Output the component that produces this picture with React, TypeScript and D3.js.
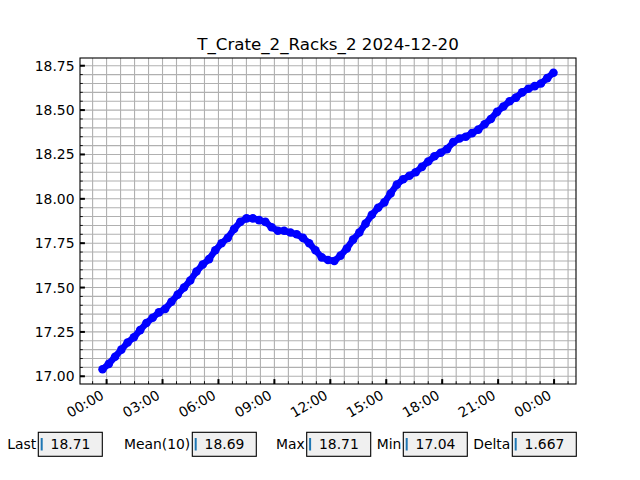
import React from "react";
import * as d3 from "d3";

const TITLE = "T_Crate_2_Racks_2 2024-12-20";
const START = new Date(2024, 11, 19, 23, 47);
const END = new Date(2024, 11, 20, 23, 58);
const VALUES: number[] = [
  17.04, 17.07, 17.11, 17.15, 17.19, 17.22, 17.26, 17.3, 17.33, 17.36,
  17.38, 17.42, 17.46, 17.5, 17.54, 17.59, 17.63, 17.66, 17.71, 17.75,
  17.78, 17.83, 17.87, 17.89, 17.89, 17.88, 17.87, 17.84, 17.82, 17.82,
  17.81, 17.8, 17.78, 17.75, 17.71, 17.67, 17.655, 17.65, 17.68, 17.72,
  17.77, 17.81, 17.86, 17.91, 17.95, 17.98, 18.03, 18.08, 18.11, 18.13,
  18.15, 18.18, 18.21, 18.24, 18.26, 18.28, 18.32, 18.34, 18.35, 18.37,
  18.39, 18.42, 18.45, 18.49, 18.52, 18.55, 18.57, 18.6, 18.62, 18.635,
  18.65, 18.68, 18.71,
];
const STAT_LABELS = ["Last", "Mean(10)", "Max", "Min", "Delta"];
const STAT_VALUES = ["18.71", "18.69", "18.71", "17.04", "1.667"];
const BOX_LEFTS = [38.3, 192.3, 306.7, 403.3, 512.3];

const W = 640;
const H = 480;
const L = 80, R = 576, T = 58, B = 384;
const FONT = "DejaVu Sans";

export default function App() {
  const n = VALUES.length;
  const t0 = START.getTime();
  const t1 = END.getTime();
  const times = VALUES.map((_, i) => new Date(t0 + ((t1 - t0) * i) / (n - 1)));
  const data = times.map((t, i) => ({ t, v: VALUES[i] }));

  const xPad = (t1 - t0) * 0.05;
  const x = d3.scaleTime().domain([new Date(t0 - xPad), new Date(t1 + xPad)]).range([L, R]);
  const [vmin, vmax] = d3.extent(VALUES) as [number, number];
  const yPad = (vmax - vmin) * 0.05;
  const y = d3.scaleLinear().domain([vmin - yPad, vmax + yPad]).range([B, T]);

  const [d0, d1] = x.domain();
  const majorX = d3.timeHour.every(3)!.range(d0, d1);
  const minorX: Date[] = [];
  if (majorX.length) {
    const base = majorX[0].getTime();
    const step = 45 * 60000;
    for (let k = -10; k < 100; k++) {
      const tt = base + k * step;
      if (tt >= d0.getTime() && tt <= d1.getTime()) minorX.push(new Date(tt));
    }
  }
  const [y0, y1] = y.domain();
  const majorY = d3.range(Math.ceil(y0 / 0.25) * 0.25, y1 + 1e-9, 0.25);
  const minorY = d3.range(Math.ceil(y0 / 0.05 - 1e-6) * 0.05, y1 + 1e-9, 0.05);

  const fmtX = d3.timeFormat("%H:%M");
  const line = d3
    .line<{ t: Date; v: number }>()
    .x((d) => x(d.t))
    .y((d) => y(d.v));

  return (
    <svg width={W} height={H} style={{ position: "absolute", left: 0, top: 0, background: "#fff" }} fontFamily={FONT}>
      <rect x={0} y={0} width={W} height={H} fill="#fff" />
      <text x={(L + R) / 2} y={50} textAnchor="middle" fontSize={16.7} fill="#000">
        {TITLE}
      </text>
      <g>
        {minorX.map((d, i) => (
          <line key={"gx" + i} x1={x(d)} x2={x(d)} y1={T} y2={B} stroke="#b0b0b0" strokeWidth={1.1} />
        ))}
        {minorY.map((v, i) => (
          <line key={"gy" + i} x1={L} x2={R} y1={y(v)} y2={y(v)} stroke="#b0b0b0" strokeWidth={1.1} />
        ))}
      </g>
      <defs>
        <clipPath id="clipA">
          <rect x={L} y={T} width={R - L} height={B - T} />
        </clipPath>
      </defs>
      <g clipPath="url(#clipA)">
        <path
          d={line(data) || ""}
          fill="none"
          stroke="#0000ff"
          strokeWidth={6.5}
          strokeLinejoin="round"
          strokeLinecap="round"
        />
        {data.map((d, i) => (
          <circle key={i} cx={x(d.t)} cy={y(d.v)} r={4.3} fill="#0000ff" />
        ))}
      </g>
      <rect x={L} y={T} width={R - L} height={B - T} fill="none" stroke="#000" strokeWidth={1.1} />
      {minorX.map((d, i) => (
        <line key={"mx" + i} x1={x(d)} x2={x(d)} y1={B} y2={B - 2.8} stroke="#000" strokeWidth={0.9} />
      ))}
      {minorY.map((v, i) => (
        <line key={"my" + i} x1={L} x2={L + 2.8} y1={y(v)} y2={y(v)} stroke="#000" strokeWidth={0.9} />
      ))}
      {majorX.map((d, i) => (
        <g key={"tx" + i}>
          <line x1={x(d)} x2={x(d)} y1={B} y2={B - 4.9} stroke="#000" strokeWidth={2} />
          <text
            transform={`translate(${x(d) - 1.6},${398}) rotate(-30)`}
            textAnchor="end"
            fontSize={13.9}
            fill="#000"
          >
            {fmtX(d)}
          </text>
        </g>
      ))}
      {majorY.map((v, i) => (
        <g key={"ty" + i}>
          <line x1={L} x2={L + 4.9} y1={y(v)} y2={y(v)} stroke="#000" strokeWidth={2} />
          <text x={74.5} y={y(v) + 5} textAnchor="end" fontSize={13.9} fill="#000">
            {d3.format(".2f")(v)}
          </text>
        </g>
      ))}
      {STAT_LABELS.map((lab, i) => {
        const bx = BOX_LEFTS[i];
        return (
          <g key={"s" + i}>
            <text x={bx - 2} y={449} textAnchor="end" fontSize={13.9} fill="#000">
              {lab}
            </text>
            <rect x={bx} y={432.3} width={64} height={24} fill="#f0f0f0" stroke="#000" strokeWidth={1.1} />
            <line x1={bx + 3.4} x2={bx + 3.4} y1={438} y2={450.5} stroke="#1f77b4" strokeWidth={2} />
            <text x={bx + 12.3} y={449} fontSize={13.9} fill="#000">
              {STAT_VALUES[i]}
            </text>
          </g>
        );
      })}
    </svg>
  );
}
